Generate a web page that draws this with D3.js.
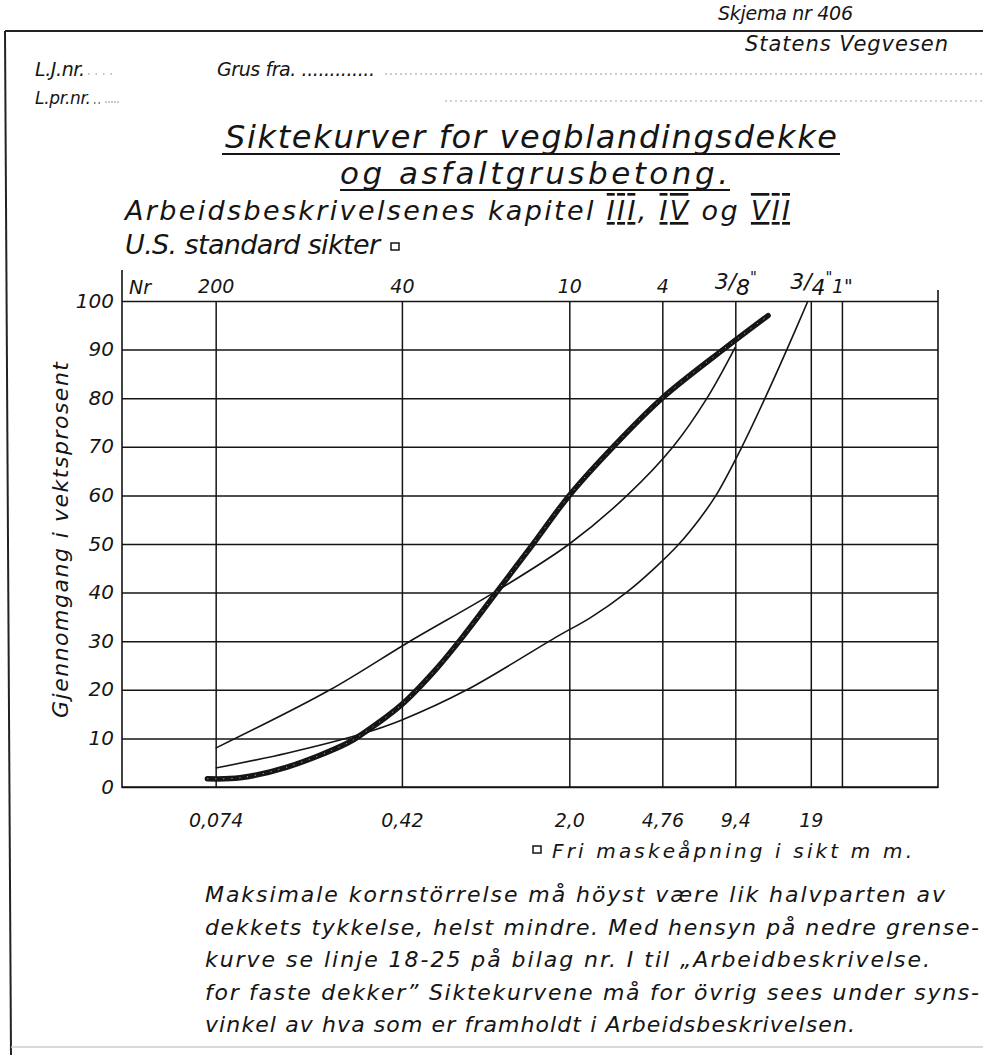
<!DOCTYPE html>
<html>
<head>
<meta charset="utf-8">
<script src="https://cdn.jsdelivr.net/npm/d3@7"></script>
<style>
  body { margin: 0; background: #fff; }
  text { font-family: "DejaVu Sans", sans-serif; font-style: oblique; font-weight: 300; fill: #151515; }
</style>
</head>
<body>
<div id="skjema"></div>
<script>
// Sikter: maskeåpning i mm, US nr og tekst under aksen
var sikteMm = [0.074, 0.42, 2.0, 4.76, 9.4, 19, 25.4];
var sikteNr = ["200", "40", "10", "4", "3/8\"", "3/4\"", "1\""];
var maskeTekst = ["0,074", "0,42", "2,0", "4,76", "9,4", "19", ""];
var prosentTicks = [0, 10, 20, 30, 40, 50, 60, 70, 80, 90, 100];

// Øvre grensekurve (tynn)
var ovreMm = [0.074, 0.215, 0.453, 0.99, 2.0, 3.43, 5.26, 7.22, 9.4];
var ovreProsent = [8, 20, 30, 40, 50, 60, 70, 80, 90.5];

// Nedre grensekurve (tynn)
var nedreMm = [0.074, 0.145, 0.292, 0.42, 0.77, 1.79, 2.43, 3.4, 4.42, 5.56, 6.70, 7.85, 10.0, 12.4, 15.2, 18.5];
var nedreProsent = [3.9, 7, 11, 13.8, 20, 31, 34.8, 40, 45, 50, 55, 60, 70, 80, 90, 100];

// Siktekurve (tykk)
var kurveMm = [0.0685, 0.0929, 0.144, 0.252, 0.292, 0.42, 0.572, 0.743, 1.03, 1.427, 2.0, 3.01, 4.75, 8.39, 12.76];
var kurveProsent = [1.7, 1.9, 4.1, 9, 11, 17, 24, 31, 40.5, 50, 60, 70, 80, 90, 97];

var width = 983, height = 1055;
var svg = d3.select("#skjema").append("svg")
    .attr("width", width)
    .attr("height", height);

svg.append("rect").attr("width", width).attr("height", height).attr("fill", "#fff");

// Skalaer
var x = d3.scaleLog().domain([0.0309, 62.2]).range([122, 938]);
var y = d3.scaleLinear().domain([0, 100]).range([787, 301]);

// Ramme rundt skjemaet
svg.append("line").attr("x1", 5).attr("y1", 31).attr("x2", 983).attr("y2", 31)
    .attr("stroke", "#222").attr("stroke-width", 2);
svg.append("line").attr("x1", 5).attr("y1", 31).attr("x2", 11).attr("y2", 1055)
    .attr("stroke", "#222").attr("stroke-width", 2);
svg.append("line").attr("x1", 11).attr("y1", 1047).attr("x2", 983).attr("y2", 1047)
    .attr("stroke", "#ccc").attr("stroke-width", 1.5);

// Hode
svg.append("text").attr("x", 718).attr("y", 20).attr("font-size", 19)
    .attr("textLength", 135).text("Skjema nr 406");
svg.append("text").attr("x", 745).attr("y", 51).attr("font-size", 21)
    .attr("textLength", 203).text("Statens Vegvesen");
svg.append("text").attr("x", 35).attr("y", 76).attr("font-size", 19)
    .attr("textLength", 50).text("L.J.nr.");
svg.append("text").attr("x", 217).attr("y", 76).attr("font-size", 19)
    .attr("textLength", 158).text("Grus fra. .............");
svg.append("text").attr("x", 35).attr("y", 104).attr("font-size", 17)
    .attr("textLength", 56).text("L.pr.nr.");

// Svake prikklinjer
svg.append("line").attr("x1", 88).attr("y1", 74).attr("x2", 118).attr("y2", 74)
    .attr("stroke", "#aaa").attr("stroke-width", 1.5).attr("stroke-dasharray", "1.5 6");
svg.append("line").attr("x1", 385).attr("y1", 74).attr("x2", 983).attr("y2", 74)
    .attr("stroke", "#bbb").attr("stroke-width", 1.5).attr("stroke-dasharray", "2 3");
svg.append("line").attr("x1", 94).attr("y1", 103).attr("x2", 101).attr("y2", 103)
    .attr("stroke", "#555").attr("stroke-width", 1.5).attr("stroke-dasharray", "1.5 3");
svg.append("line").attr("x1", 105).attr("y1", 102).attr("x2", 119).attr("y2", 102)
    .attr("stroke", "#bbb").attr("stroke-width", 1.5).attr("stroke-dasharray", "2 1");
svg.append("line").attr("x1", 445).attr("y1", 101).attr("x2", 983).attr("y2", 101)
    .attr("stroke", "#c4c4c4").attr("stroke-width", 1.5).attr("stroke-dasharray", "2 3");

// Tittel
svg.append("text").attr("x", 225).attr("y", 148).attr("font-size", 32)
    .attr("textLength", 612).text("Siktekurver for vegblandingsdekke");
svg.append("line").attr("x1", 222).attr("y1", 154).attr("x2", 840).attr("y2", 154)
    .attr("stroke", "#151515").attr("stroke-width", 2.2);
svg.append("text").attr("x", 340).attr("y", 184).attr("font-size", 31)
    .attr("textLength", 388).text("og asfaltgrusbetong.");
svg.append("line").attr("x1", 340).attr("y1", 190).attr("x2", 730).attr("y2", 190)
    .attr("stroke", "#151515").attr("stroke-width", 2.2);

var kap = svg.append("text").attr("x", 125).attr("y", 220).attr("font-size", 27)
    .attr("textLength", 665);
kap.append("tspan").text("Arbeidsbeskrivelsenes kapitel ");
kap.append("tspan").attr("text-decoration", "underline overline").text("III");
kap.append("tspan").text(", ");
kap.append("tspan").attr("text-decoration", "underline overline").text("IV");
kap.append("tspan").text(" og ");
kap.append("tspan").attr("text-decoration", "underline overline").text("VII");

svg.append("text").attr("x", 125).attr("y", 254).attr("font-size", 27)
    .attr("textLength", 255).text("U.S. standard sikter");
svg.append("rect").attr("x", 391).attr("y", 243).attr("width", 8).attr("height", 7)
    .attr("fill", "none").attr("stroke", "#151515").attr("stroke-width", 1.5);

// Y-akse med horisontale rutelinjer
var yAxis = svg.append("g")
    .attr("transform", "translate(122,0)")
    .call(d3.axisLeft(y).tickValues(prosentTicks).tickSize(-816).tickSizeOuter(0).tickPadding(8));
yAxis.select(".domain").remove();
yAxis.selectAll("line").attr("stroke", "#151515").attr("stroke-width", 1.5);
yAxis.selectAll("text").attr("font-size", 20).attr("font-family", null).attr("dy", "0.3em");

// X-akse med loddrette rutelinjer
var xAxis = svg.append("g")
    .attr("transform", "translate(0,787)")
    .call(d3.axisBottom(x).tickValues(sikteMm).tickSize(-486).tickSizeOuter(0).tickPadding(27)
        .tickFormat(function (d, i) { return maskeTekst[i]; }));
xAxis.select(".domain").remove();
xAxis.selectAll("line").attr("stroke", "#151515").attr("stroke-width", 1.5);
xAxis.selectAll("text").attr("font-size", 19).attr("font-family", null);

// Sikt nr over rutenettet
var topAxis = svg.append("g")
    .attr("transform", "translate(0,301)")
    .call(d3.axisTop(x).tickValues(sikteMm).tickSize(0).tickPadding(8)
        .tickFormat(function (d, i) { return sikteNr[i]; }));
topAxis.select(".domain").remove();
topAxis.selectAll("text").attr("font-size", 19).attr("font-family", null)
    .each(function () {
        var t = d3.select(this), s = t.text();
        if (s.indexOf("/") > 0) {
            var deler = s.replace("\"", "").split("/");
            t.text(null).attr("font-size", 22);
            t.append("tspan").attr("dy", -4).text(deler[0]);
            t.append("tspan").attr("dy", 0).text("/");
            t.append("tspan").attr("dy", 6).text(deler[1]);
            t.append("tspan").attr("dy", -12).attr("font-size", 15).text("\"");
        }
    });
svg.append("text").attr("x", 129).attr("y", 294).attr("font-size", 19).text("Nr");

// Akselinjer og høyre kant
svg.append("line").attr("x1", 122).attr("y1", 270).attr("x2", 122).attr("y2", 788)
    .attr("stroke", "#151515").attr("stroke-width", 1.6);
svg.append("line").attr("x1", 122).attr("y1", 787).attr("x2", 938).attr("y2", 787)
    .attr("stroke", "#151515").attr("stroke-width", 1.6);
svg.append("line").attr("x1", 938).attr("y1", 290).attr("x2", 938).attr("y2", 788)
    .attr("stroke", "#151515").attr("stroke-width", 1.6);

// Aksetittel
svg.append("text")
    .attr("transform", "translate(68,540) rotate(-90)")
    .attr("text-anchor", "middle")
    .attr("font-size", 22)
    .attr("textLength", 356)
    .text("Gjennomgang i vektsprosent");

// Kurver
var linje = d3.line()
    .x(function (d) { return x(d[0]); })
    .y(function (d) { return y(d[1]); })
    .curve(d3.curveCatmullRom.alpha(0.5));

svg.append("path").datum(d3.zip(ovreMm, ovreProsent))
    .attr("d", linje).attr("fill", "none").attr("stroke", "#151515").attr("stroke-width", 1.6);
svg.append("path").datum(d3.zip(nedreMm, nedreProsent))
    .attr("d", linje).attr("fill", "none").attr("stroke", "#151515").attr("stroke-width", 1.6);
svg.append("path").datum(d3.zip(kurveMm, kurveProsent))
    .attr("d", linje).attr("fill", "none").attr("stroke", "#151515").attr("stroke-width", 5.5)
    .attr("stroke-linecap", "round");
svg.append("path").datum(d3.zip(kurveMm, kurveProsent))
    .attr("d", linje).attr("fill", "none").attr("stroke", "#fff").attr("stroke-width", 1)
    .attr("stroke-dasharray", "1 7").attr("opacity", 0.7);

// Forklaring
svg.append("rect").attr("x", 533).attr("y", 846).attr("width", 8).attr("height", 7)
    .attr("fill", "none").attr("stroke", "#151515").attr("stroke-width", 1.5);
svg.append("text").attr("x", 552).attr("y", 858).attr("font-size", 20)
    .attr("textLength", 360).text("Fri maskeåpning i sikt m m.");

// Merknad
var merknad = [
    "Maksimale kornstörrelse må höyst være lik halvparten av",
    "dekkets tykkelse, helst mindre. Med hensyn på nedre grense-",
    "kurve se linje 18-25 på bilag nr. I til \u201eArbeidbeskrivelse.",
    "for faste dekker\u201d Siktekurvene må for övrig sees under syns-",
    "vinkel av hva som er framholdt i Arbeidsbeskrivelsen."
];
var merknadBredde = [740, 774, 725, 774, 650];
svg.selectAll("text.merknad")
    .data(merknad)
    .enter()
    .append("text")
    .attr("class", "merknad")
    .attr("x", 205)
    .attr("y", function (d, i) { return 902 + i * 32.5; })
    .attr("font-size", 22)
    .attr("textLength", function (d, i) { return merknadBredde[i]; })
    .text(function (d) { return d; });
</script>
</body>
</html>
